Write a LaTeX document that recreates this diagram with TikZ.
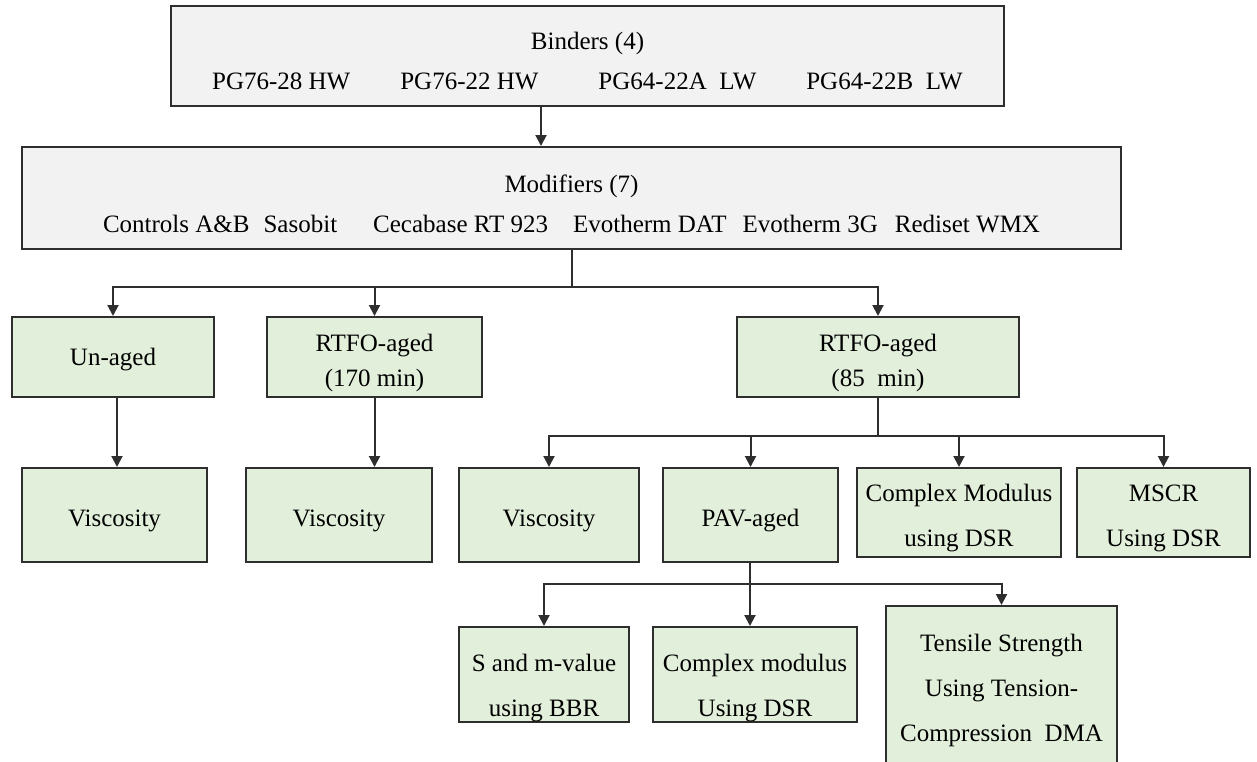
\documentclass[tikz,border=0pt]{standalone}
\usepackage{fontspec}
\setmainfont{Liberation Serif}
\usetikzlibrary{arrows.meta}
\definecolor{boxgrey}{HTML}{F2F2F2}
\definecolor{boxgreen}{HTML}{E2EFDA}
\definecolor{edgegrey}{HTML}{2E2E2E}
% invisible strut, pushes the text of a box a little down
\newcommand{\textdrop}[1]{\rule{0pt}{#1}}

\begin{document}
\begin{tikzpicture}[x=1pt, y=-1pt,
    greybox/.style={draw=edgegrey, line width=2pt, fill=boxgrey, align=center,
      inner sep=0pt, font=\fontsize{25}{40}\selectfont},
    greenbox/.style={draw=edgegrey, line width=2pt, fill=boxgreen, align=center,
      inner sep=0pt, font=\fontsize{25}{45}\selectfont},
    link/.style={line width=2pt, draw=edgegrey},
    arr/.style={link, -{Triangle[length=11pt, width=11pt]}}]
  \clip (0,0) rectangle (1257,761);

  % binders and modifiers
  \node[greybox, minimum width=833pt, minimum height=100pt] (binders) at (587.5,56)
    {\textdrop{28pt}Binders (4)\\
     PG76-28 HW\hspace{50pt}PG76-22 HW\hspace{60pt}PG64-22A\ \ LW\hspace{50pt}PG64-22B\ \ LW};
  \node[greybox, minimum width=1099pt, minimum height=102pt] (modifiers) at (571.5,198)
    {\textdrop{30pt}Modifiers (7)\\
     Controls A\&B\hspace{14pt}Sasobit\hspace{36pt}Cecabase RT 923\hspace{25pt}Evotherm DAT\hspace{16pt}Evotherm 3G\hspace{17pt}Rediset WMX};

  % ageing
  \node[greenbox, minimum width=202pt, minimum height=80pt] (unaged) at (113,357) {\textdrop{22pt}Un-aged};
  \node[greenbox, minimum width=215pt, minimum height=80pt, font=\fontsize{25}{35}\selectfont] (rtfoA) at (374.5,357)
    {\textdrop{30pt}RTFO-aged\\(170 min)};
  \node[greenbox, minimum width=282pt, minimum height=80pt, font=\fontsize{25}{35}\selectfont] (rtfoB) at (878,357)
    {\textdrop{30pt}RTFO-aged\\(85\ \ min)};

  % tests
  \node[greenbox, minimum width=185pt, minimum height=94pt] (viscA) at (114.5,515) {\textdrop{28pt}Viscosity};
  \node[greenbox, minimum width=186pt, minimum height=94pt] (viscB) at (339,515) {\textdrop{28pt}Viscosity};
  \node[greenbox, minimum width=180pt, minimum height=94pt] (viscC) at (549,515) {\textdrop{28pt}Viscosity};
  \node[greenbox, minimum width=175pt, minimum height=94pt] (pav) at (750.5,515) {\textdrop{28pt}PAV-aged};
  \node[greenbox, minimum width=204pt, minimum height=89pt] (cmodA) at (959,512.5)
    {\textdrop{28pt}Complex Modulus\\using DSR};
  \node[greenbox, minimum width=173pt, minimum height=89pt] (mscr) at (1163.5,512.5)
    {\textdrop{28pt}MSCR\\Using DSR};

  % PAV tests
  \node[greenbox, minimum width=170pt, minimum height=95pt] (bbr) at (544,674.5)
    {\textdrop{44pt}S and m-value\\using BBR};
  \node[greenbox, minimum width=204pt, minimum height=95pt] (cmodB) at (755,674.5)
    {\textdrop{44pt}Complex modulus\\Using DSR};
  \node[greenbox, minimum width=231pt, minimum height=169pt] (tensile) at (1001.5,690.5)
    {Tensile Strength\\Using Tension-\\Compression\ \ DMA};

  % connectors
  \coordinate (jmod) at (572,287);
  \coordinate (jrtfo) at (878,436);
  \coordinate (jpav) at (750,584);

  \draw[arr] (binders.south -| 541,0) -- (modifiers.north -| 541,0);
  \draw[link] (modifiers.south -| jmod) -- (jmod);
  \draw[arr] (jmod) -| (unaged.north);
  \draw[arr] (jmod) -| (rtfoA.north);
  \draw[arr] (jmod) -| (rtfoB.north);

  \draw[arr] (unaged.south -| 117,0) -- (viscA.north -| 117,0);
  \draw[arr] (rtfoA.south) -- (rtfoA.south |- viscB.north);

  \draw[link] (rtfoB.south) -- (jrtfo);
  \draw[arr] (jrtfo) -| (viscC.north);
  \draw[arr] (jrtfo) -| (pav.north);
  \draw[arr] (jrtfo) -| (cmodA.north);
  \draw[arr] (jrtfo) -| (mscr.north);

  \draw[link] (pav.south -| jpav) -- (jpav);
  \draw[arr] (jpav) -| (bbr.north);
  \draw[arr] (jpav) -- (jpav |- cmodB.north);
  \draw[arr] (jpav) -| (tensile.north);
\end{tikzpicture}
\end{document}
